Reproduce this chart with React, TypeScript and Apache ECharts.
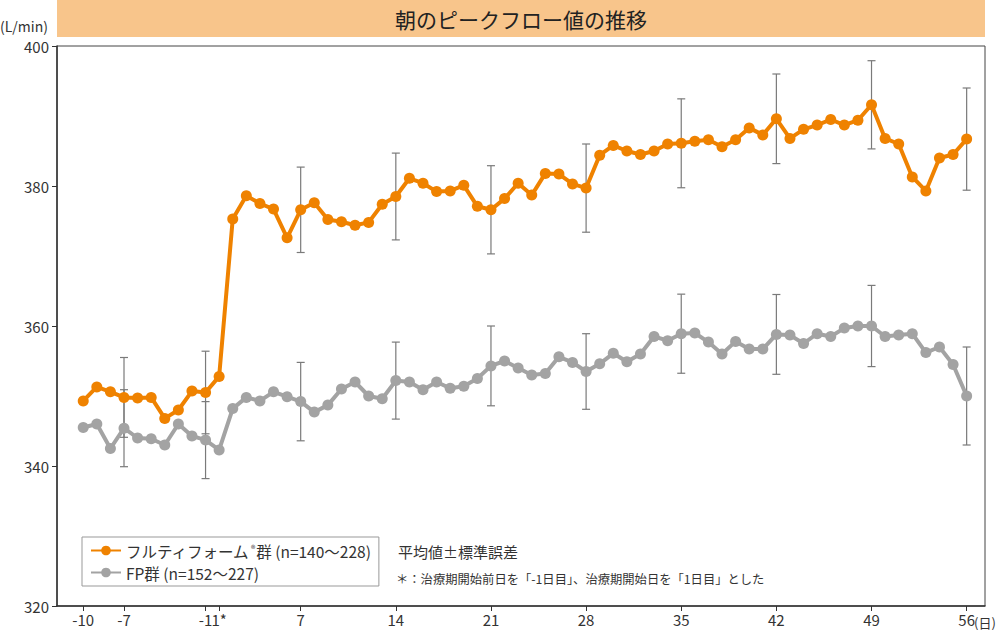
import React, { useEffect, useRef } from "react";
import * as echarts from "echarts";

const days: number[] = [
  -10, -9, -8, -7, -6, -5, -4, -3, -2, -1,
  1, 2, 3, 4, 5, 6, 7, 8, 9, 10, 11, 12, 13, 14, 15, 16, 17, 18, 19, 20,
  21, 22, 23, 24, 25, 26, 27, 28, 29, 30, 31, 32, 33, 34, 35, 36, 37, 38, 39, 40,
  41, 42, 43, 44, 45, 46, 47, 48, 49, 50, 51, 52, 53, 54, 55, 56,
];

const tickDays = [-10, -7, -1, 1, 7, 14, 21, 28, 35, 42, 49, 56];
const tickLabels = ["-10", "-7", "-1", "1*", "7", "14", "21", "28", "35", "42", "49", "56"];

const flutiform: number[] = [
  349.3, 351.3, 350.6, 349.8, 349.7, 349.8, 346.8, 348.0, 350.7, 350.5,
  352.8, 375.3, 378.6, 377.5, 376.7, 372.6, 376.6, 377.6, 375.2, 374.9,
  374.4, 374.8, 377.4, 378.5, 381.1, 380.4, 379.2, 379.3, 380.1, 377.1,
  376.6, 378.2, 380.4, 378.7, 381.8, 381.7, 380.3, 379.7, 384.4, 385.8,
  385.0, 384.5, 385.0, 386.0, 386.1, 386.4, 386.6, 385.6, 386.6, 388.3,
  387.3, 389.6, 386.8, 388.1, 388.7, 389.5, 388.7, 389.4, 391.6, 386.8,
  386.0, 381.3, 379.3, 384.0, 384.5, 386.7,
];

const fp: number[] = [
  345.5, 346.0, 342.5, 345.4, 344.0, 343.9, 343.0, 346.0, 344.3, 343.7,
  342.3, 348.2, 349.8, 349.3, 350.6, 349.9, 349.2, 347.7, 348.7, 351.0,
  352.0, 350.0, 349.6, 352.2, 352.0, 350.9, 352.0, 351.1, 351.4, 352.5,
  354.3, 355.0, 354.0, 353.0, 353.2, 355.6, 354.8, 353.5, 354.6, 356.1,
  354.9, 356.0, 358.5, 357.9, 358.9, 359.0, 357.7, 356.0, 357.8, 356.7,
  356.7, 358.8, 358.7, 357.5, 358.9, 358.5, 359.7, 360.0, 360.0, 358.5,
  358.7, 358.9, 356.2, 357.0, 354.5, 350.0,
];

const errDays = [-7, -1, 7, 14, 21, 28, 35, 42, 49, 56];
const flutiformSE = [5.7, 5.9, 6.1, 6.2, 6.3, 6.3, 6.35, 6.4, 6.3, 7.3];
const fpSE = [5.5, 5.5, 5.6, 5.5, 5.7, 5.4, 5.65, 5.7, 5.8, 7.0];

const ORANGE = "#EF8200";
const GRAY = "#A3A3A3";
const FONT = "'Noto Sans CJK JP', 'Noto Sans', sans-serif";

export default function App() {
  const ref = useRef<HTMLDivElement>(null);

  useEffect(() => {
    if (!ref.current) return;
    const chart = echarts.init(ref.current, null, { renderer: "svg" });

    const idx = (d: number) => days.indexOf(d);
    const tickIdx = tickDays.map(idx);
    const labelMap: Record<number, string> = {};
    tickIdx.forEach((t, i) => (labelMap[t] = tickLabels[i]));

    const errData = (vals: number[], se: number[]) =>
      errDays.map((d, i) => {
        const k = idx(d);
        return [k, vals[k] - se[i], vals[k] + se[i]];
      });

    const renderErr = (params: any, api: any) => {
      const x = api.value(0);
      const lo = api.coord([x, api.value(1)]);
      const hi = api.coord([x, api.value(2)]);
      const w = 4;
      const style = { stroke: "#7a7a7a", lineWidth: 1.2 };
      return {
        type: "group",
        children: [
          { type: "line", shape: { x1: lo[0], y1: lo[1], x2: hi[0], y2: hi[1] }, style },
          { type: "line", shape: { x1: lo[0] - w, y1: lo[1], x2: lo[0] + w, y2: lo[1] }, style },
          { type: "line", shape: { x1: hi[0] - w, y1: hi[1], x2: hi[0] + w, y2: hi[1] }, style },
        ],
      };
    };

    const mk = (vals: number[]) => vals.map((v, i) => [i, v]);

    chart.setOption({
      animation: false,
      textStyle: { fontFamily: FONT },
      grid: {
        left: 57,
        right: 15,
        top: 46,
        bottom: 24,
        show: true,
        borderColor: "#444",
        borderWidth: 1,
      },
      xAxis: {
        type: "value",
        min: -1.93,
        max: 66.35,
        splitLine: { show: false },
        axisLine: { onZero: false, lineStyle: { color: "#333", width: 1.5 } },
        axisTick: {
          customValues: tickIdx,
          length: 5,
          lineStyle: { color: "#333" },
        },
        axisLabel: {
          customValues: tickIdx,
          formatter: (v: number) => labelMap[v] ?? "",
          color: "#333",
          fontSize: 15,
          fontFamily: FONT,
          margin: 6,
          showMinLabel: true,
          showMaxLabel: true,
        },
      },
      yAxis: {
        type: "value",
        min: 320,
        max: 400,
        interval: 20,
        splitLine: { show: false },
        axisLine: { show: true, onZero: false, lineStyle: { color: "#333", width: 1.5 } },
        axisTick: { show: true, length: 5, lineStyle: { color: "#333" } },
        axisLabel: { color: "#333", fontSize: 15, fontFamily: FONT, margin: 8 },
      },
      legend: {
        orient: "vertical",
        left: 82,
        top: 537,
        padding: [5, 8, 5, 8],
        itemGap: 5,
        itemWidth: 30,
        itemHeight: 12,
        borderColor: "#999",
        borderWidth: 1,
        data: ["フルティフォーム®群 (n=140〜228)", "FP群 (n=152〜227)"],
        formatter: (name: string) => name.replace("®", "{sup|®}"),
        textStyle: {
          fontSize: 15.5,
          lineHeight: 17,
          color: "#333",
          fontFamily: FONT,
          rich: {
            sup: { fontSize: 9, lineHeight: 10, color: "#333", padding: [0, 1, 5, 1] },
          },
        },
      },
      series: [
        {
          type: "custom",
          name: "errF",
          renderItem: renderErr,
          data: errData(flutiform, flutiformSE),
          z: 1,
          silent: true,
        },
        {
          type: "custom",
          name: "errP",
          renderItem: renderErr,
          data: errData(fp, fpSE),
          z: 1,
          silent: true,
        },
        {
          type: "line",
          name: "フルティフォーム®群 (n=140〜228)",
          data: mk(flutiform),
          symbol: "circle",
          symbolSize: 11,
          itemStyle: { color: ORANGE },
          lineStyle: { color: ORANGE, width: 4 },
          z: 3,
        },
        {
          type: "line",
          name: "FP群 (n=152〜227)",
          data: mk(fp),
          symbol: "circle",
          symbolSize: 11,
          itemStyle: { color: GRAY },
          lineStyle: { color: GRAY, width: 4 },
          z: 2,
        },
      ],
      graphic: [
        {
          type: "rect",
          shape: { x: 57, y: 0, width: 928, height: 37 },
          style: { fill: "#F8C58B" },
        },
        {
          type: "text",
          x: 521,
          y: 19,
          style: {
            text: "朝のピークフロー値の推移",
            fill: "#222",
            fontSize: 21,
            fontFamily: FONT,
            align: "center",
            verticalAlign: "middle",
          },
        },
        {
          type: "text",
          x: 0,
          y: 26,
          style: {
            text: "(L/min)",
            fill: "#333",
            fontSize: 14,
            fontFamily: FONT,
            verticalAlign: "middle",
          },
        },
        {
          type: "text",
          x: 974,
          y: 622,
          style: {
            text: "(日)",
            fill: "#333",
            fontSize: 13,
            fontFamily: FONT,
            verticalAlign: "middle",
          },
        },
        {
          type: "text",
          x: 398,
          y: 551,
          style: {
            text: "平均値±標準誤差",
            fill: "#333",
            fontSize: 15,
            fontFamily: FONT,
            verticalAlign: "middle",
          },
        },
        {
          type: "text",
          x: 396,
          y: 579,
          style: {
            text: "＊：治療期開始前日を「-1日目」、治療期開始日を「1日目」とした",
            fill: "#333",
            fontSize: 12.3,
            fontFamily: FONT,
            verticalAlign: "middle",
          },
        },
      ],
    });

    return () => chart.dispose();
  }, []);

  return (
    <div
      ref={ref}
      style={{ position: "fixed", left: 0, top: 0, width: 1000, height: 630, background: "#fff" }}
    />
  );
}
